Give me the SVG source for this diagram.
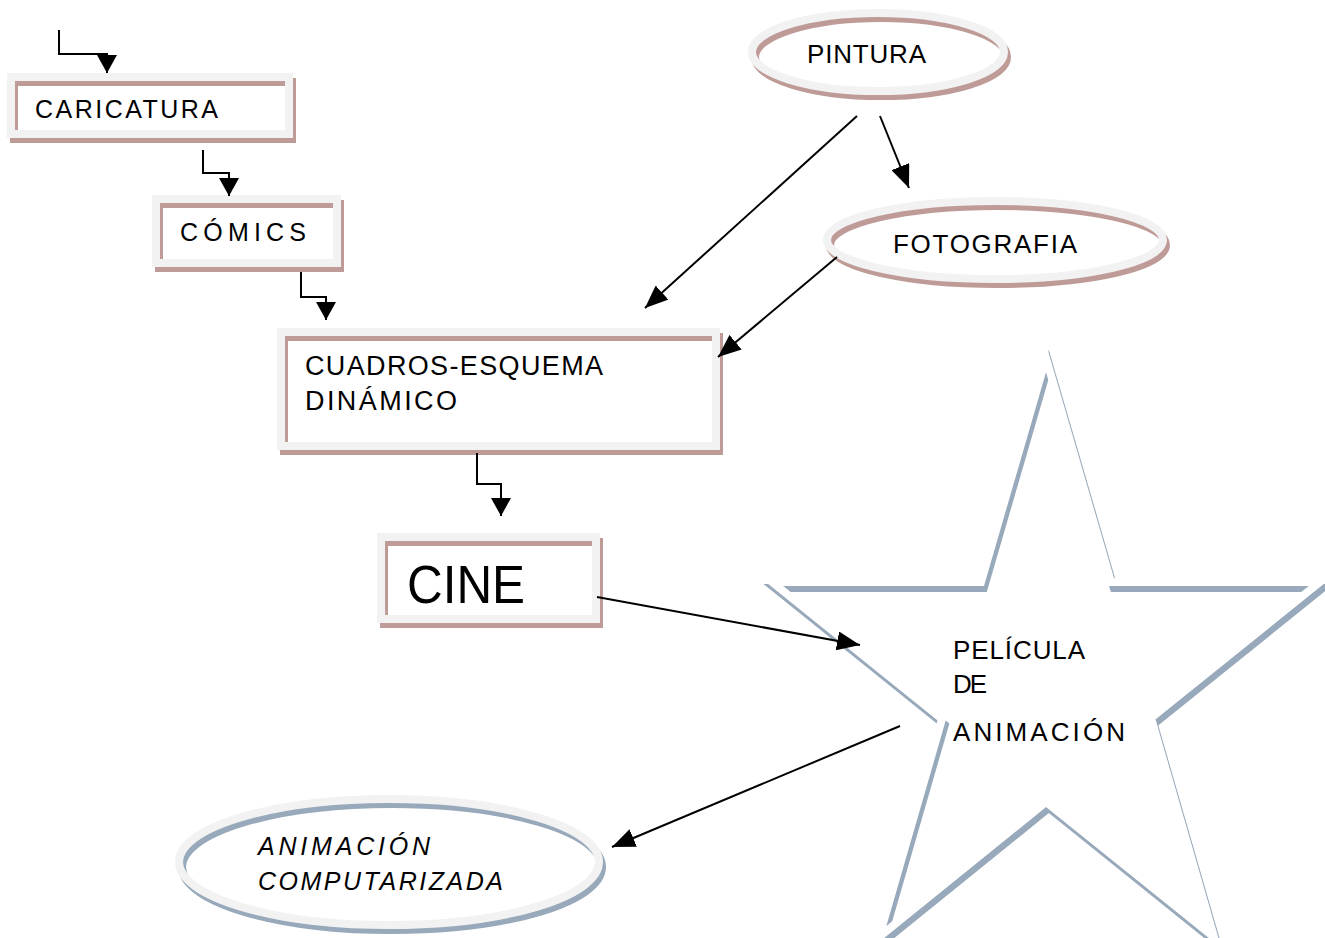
<svg xmlns="http://www.w3.org/2000/svg" width="1325" height="938" viewBox="0 0 1325 938">
<style>
.frame{fill:none;stroke:#f2f2f2;stroke-width:8}
.shadow{fill:none;stroke:#bf9b98;stroke-width:8}
.bshadow{fill:none;stroke:#97a9ba;stroke-width:8}
.t{font-family:"Liberation Sans",Arial,sans-serif;fill:#000}
.conn{fill:none;stroke:#000;stroke-width:2}
</style>
<defs>
<marker id="big" markerUnits="userSpaceOnUse" markerWidth="23" markerHeight="19" refX="23" refY="9.5" orient="auto"><path d="M0,0 L23,9.5 L0,19 z" fill="#000"/></marker>
<marker id="small" markerUnits="userSpaceOnUse" markerWidth="18" markerHeight="20" refX="18" refY="10" orient="auto"><path d="M0,0 L18,10 L0,20 z" fill="#000"/></marker>
</defs>
<rect width="1325" height="938" fill="#fff"/>

<g id="caricatura">
<rect class="shadow" x="14" y="82" width="278" height="57"/>
<rect class="frame" x="11" y="77" width="278" height="57"/>
<text class="t" x="35" y="118" font-size="25" textLength="183" lengthAdjust="spacing">CARICATURA</text>
</g>

<g id="comics">
<rect class="shadow" x="159" y="204" width="181" height="64"/>
<rect class="frame" x="156" y="199" width="181" height="64"/>
<text class="t" x="180" y="241" font-size="25" textLength="126" lengthAdjust="spacing">CÓMICS</text>
</g>

<g id="cuadros">
<rect class="shadow" x="284" y="337" width="435" height="114"/>
<rect class="frame" x="281" y="332" width="435" height="114"/>
<text class="t" x="305" y="375" font-size="27" textLength="298" lengthAdjust="spacing">CUADROS-ESQUEMA</text>
<text class="t" x="305" y="410" font-size="27" textLength="152" lengthAdjust="spacing">DINÁMICO</text>
</g>

<g id="cine">
<rect class="shadow" x="384" y="542" width="215" height="82"/>
<rect class="frame" x="381" y="537" width="215" height="82"/>
<text class="t" x="407" y="603" font-size="54" textLength="118" lengthAdjust="spacingAndGlyphs">CINE</text>
</g>

<g id="pintura">
<ellipse class="shadow" cx="881" cy="57" rx="126" ry="39"/>
<ellipse class="frame" cx="878" cy="52" rx="126" ry="39"/>
<text class="t" x="807" y="63" font-size="26" textLength="119" lengthAdjust="spacing">PINTURA</text>
</g>

<g id="fotografia">
<ellipse class="shadow" cx="998" cy="245" rx="168" ry="39"/>
<ellipse class="frame" cx="995" cy="240" rx="168" ry="39"/>
<text class="t" x="893" y="253" font-size="26" textLength="184" lengthAdjust="spacing">FOTOGRAFIA</text>
</g>

<g id="pelicula">
<polygon class="bshadow" transform="translate(2.8,6)" points="1046,358 1111,582 1320,582 1151,718 1214,937 1046,802 879,937 942,719 772,582 981,582"/>
<polygon fill="none" stroke="#fff" stroke-width="8" points="1046,358 1111,582 1320,582 1151,718 1214,937 1046,802 879,937 942,719 772,582 981,582"/>
<text class="t" x="953" y="659" font-size="26" textLength="132" lengthAdjust="spacing">PELÍCULA</text>
<text class="t" x="953" y="693" font-size="26" textLength="34" lengthAdjust="spacing">DE</text>
<text class="t" x="953" y="741" font-size="26" textLength="172" lengthAdjust="spacing">ANIMACIÓN</text>
</g>

<g id="animacion">
<ellipse class="bshadow" cx="392" cy="867" rx="210" ry="63"/>
<ellipse class="frame" cx="389" cy="862" rx="210" ry="63"/>
<text class="t" x="258" y="855" font-size="25" font-style="italic" textLength="172" lengthAdjust="spacing">ANIMACIÓN</text>
<text class="t" x="258" y="890" font-size="25" font-style="italic" textLength="245" lengthAdjust="spacing">COMPUTARIZADA</text>
</g>

<g id="connectors">
<path class="conn" d="M59,30 V54 H107 V73" marker-end="url(#small)"/>
<path class="conn" d="M203,150 V173 H229 V196" marker-end="url(#small)"/>
<path class="conn" d="M301,272 V297 H326 V320" marker-end="url(#small)"/>
<path class="conn" d="M477,453 V484 H501 V516" marker-end="url(#small)"/>
<path class="conn" d="M857,116 L645,308" marker-end="url(#big)"/>
<path class="conn" d="M880,116 L909,188" marker-end="url(#big)"/>
<path class="conn" d="M837,257 L718,357" marker-end="url(#big)"/>
<path class="conn" d="M597,597 L860,645" marker-end="url(#big)"/>
<path class="conn" d="M900,726 L612,847" marker-end="url(#big)"/>
</g>
</svg>
